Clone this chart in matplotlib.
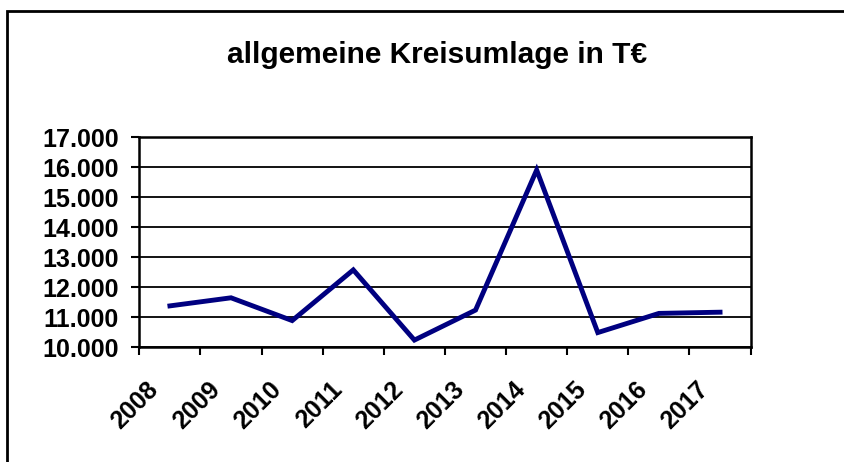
import matplotlib.pyplot as plt
from matplotlib.patches import Rectangle
from matplotlib.ticker import FuncFormatter, FixedLocator
from matplotlib.transforms import ScaledTranslation

plt.rcParams['font.family'] = ['Liberation Sans', 'DejaVu Sans']
plt.rcParams['font.weight'] = 'bold'

years = ['2008', '2009', '2010', '2011', '2012', '2013', '2014', '2015', '2016', '2017']
umlage = [11380, 11650, 10890, 12580, 10240, 11240, 15910, 10490, 11130, 11170]

fig = plt.figure(figsize=(8.45, 4.62), dpi=100)
ax = fig.add_axes([0.1649, 0.2483, 0.7234, 0.4545])

x = range(len(years))
ax.plot(x, umlage, color='#000080', linewidth=3.5, solid_joinstyle='miter', zorder=3)

ax.set_xlim(-0.5, len(years) - 0.5)
ax.set_ylim(10000, 17000)
ax.set_yticks(range(10000, 17001, 1000))
ax.yaxis.set_major_formatter(FuncFormatter(lambda v, p: f'{int(v):,}'.replace(',', '.')))
ax.grid(axis='y', color='black', linewidth=1.3)
ax.set_axisbelow(True)

# category labels centred, ticks between categories
ax.xaxis.set_major_locator(FixedLocator([i - 0.5 for i in range(len(years) + 1)]))
ax.xaxis.set_minor_locator(FixedLocator(list(x)))
ax.set_xticklabels([])
ax.set_xticklabels(years, minor=True, rotation=45, ha='right', va='center',
                   rotation_mode='anchor', fontsize=18, fontweight='bold')
ax.tick_params(axis='x', which='minor', length=0, pad=27.5)
ax.tick_params(axis='x', which='major', length=6, width=1.5, color='black')
ax.tick_params(axis='y', length=6, width=1.5, pad=9, labelsize=18)

shift = ScaledTranslation(-15 / 100, 0, fig.dpi_scale_trans)
for lbl in ax.xaxis.get_minorticklabels():
    lbl.set_transform(lbl.get_transform() + shift)

for s in ax.spines.values():
    s.set_linewidth(1.8)
    s.set_color('black')

fig.text(0.517, 0.881, 'allgemeine Kreisumlage in T€', ha='center', va='center',
         fontsize=21.5, fontweight='bold')

fig.add_artist(Rectangle((7 / 845, -0.1), 1.2, 1.1 - 11 / 462, transform=fig.transFigure,
                         fill=False, edgecolor='black', linewidth=2))

fig.savefig('out.png', dpi=100)
